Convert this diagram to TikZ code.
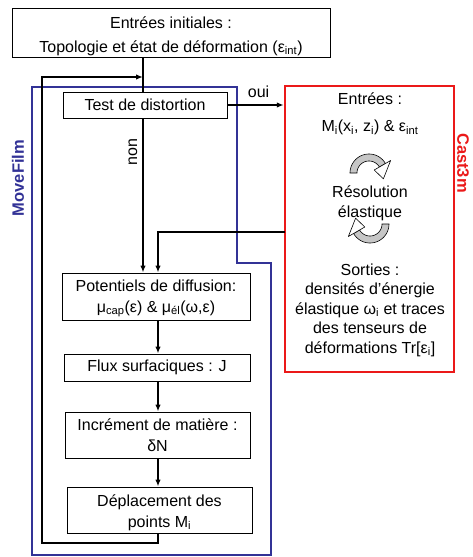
\documentclass[tikz,border=0pt]{standalone}
\usepackage{fontspec}
\setmainfont{Liberation Sans}
\usetikzlibrary{arrows.meta,calc}
\definecolor{mfblue}{RGB}{50,50,150}
\definecolor{cred}{RGB}{235,25,25}
\newcommand{\cyclearrow}[3]{%
  \begin{scope}[shift={(#1,#2)},rotate=#3]
    \filldraw[fill=gray!45,draw=black,line width=0.6pt]
      plot[domain=180:330,samples=30] ({19*cos(\x)},{19*sin(\x)}) --
      plot[domain=330:180,samples=30] ({12*cos(\x)},{12*sin(\x)}) -- cycle;
    \filldraw[fill=white,draw=black,line width=0.6pt,line join=round]
      (330:6) -- (330:25) -- (22:15.5) -- cycle;
  \end{scope}}
\begin{document}
\begin{tikzpicture}[x=1pt,y=-1pt,
  box/.style={draw=black,line width=1pt,inner sep=0pt,align=center,font=\fontsize{16}{21}\selectfont},
  txt/.style={align=center,inner sep=0pt},
  conn/.style={line width=1.4pt},
  arr/.style={conn,-{Latex[length=7pt,width=5.5pt]}},
  lbl/.style={inner sep=0pt,font=\fontsize{16}{16}\selectfont},
  side/.style={inner sep=0pt,font=\bfseries\fontsize{16.5}{16.5}\selectfont}]
\useasboundingbox (0,0) rectangle (472,557);

% MoveFilm region
\draw[mfblue,line width=2pt,line join=miter]
  (32,87) -- (237,87) -- (237,263) -- (271,263) -- (271,555) -- (32,555) -- cycle;
\node[side,rotate=90,text=mfblue] (mf) at (18,178) {MoveFilm};

% boxes
\node[box,minimum width=318pt,minimum height=49pt,font=\fontsize{16}{24}\selectfont] (top) at (171,32.5)
  {\rule{0pt}{19pt}Entrées initiales :\\Topologie et état de déformation (ε\textsubscript{int})};
\node[box,minimum width=164pt,minimum height=26pt] (test) at (145,105) {Test de distortion};
\node[box,minimum width=188pt,minimum height=47pt] (pot) at (156,296.5)
  {\rule{0pt}{15pt}Potentiels de diffusion:\\μ\textsubscript{cap}(ε) \& μ\textsubscript{él}(ω,ε)};
\node[box,minimum width=186pt,minimum height=27pt] (flux) at (157,367.5) {Flux surfaciques : J};
\node[box,minimum width=185pt,minimum height=46pt] (inc) at (157.5,435) {Incrément de matière :\\δN};
\node[box,minimum width=185pt,minimum height=46pt] (dep) at (159.5,510) {\rule{0pt}{17pt}Déplacement des\\points M\textsubscript{i}};

% Cast3m box
\node[draw=cred,line width=2.5pt,minimum width=169pt,minimum height=286pt,inner sep=0pt] (cast) at (369.5,229) {};
\node[side,rotate=-90,text=cred] (c3) at (463,163) {Cast3m};
\node[txt,font=\fontsize{16}{27}\selectfont] (cin) at (370,114)
  {Entrées :\\M\textsubscript{i}(x\textsubscript{i}, z\textsubscript{i}) \& ε\textsubscript{int}};
\node[txt,font=\fontsize{16}{20}\selectfont] (res) at (370,203) {Résolution\\élastique};
\node[txt,font=\fontsize{16}{19.5}\selectfont] (out) at (370,310)
  {Sorties :\\densités d'énergie\\élastique ω\textsubscript{i} et traces\\des tenseurs de\\déformations Tr[ε\textsubscript{i}]};
\cyclearrow{369}{173}{0}
\cyclearrow{370}{224}{180}

% helper coordinates
\coordinate (mainx) at (143,0);
\coordinate (sidex) at (158,0);
\coordinate (ret) at (285,232);
\coordinate (lb) at (42,543);
\coordinate (lt) at (42,77);

% connectors
\draw[conn] (top.south -| mainx) -- (test.north -| mainx);
\draw[arr] (test.south -| mainx) -- (pot.north -| mainx);
\node[lbl,rotate=90] (non) at (133,152) {non};
\draw[arr] (test.east) -- node[lbl,above=7pt,xshift=3pt] (oui) {oui} (cast.west |- test.east);
\draw[arr] (ret) -| (pot.north -| sidex);
\draw[arr] (pot.south -| sidex) -- (flux.north -| sidex);
\draw[arr] (flux.south -| sidex) -- (inc.north -| sidex);
\draw[arr] (inc.south -| sidex) -- (dep.north -| sidex);
\draw[arr] (dep.south -| sidex) |- (lb) -- (lt) -- (lt -| mainx);
\end{tikzpicture}
\end{document}
